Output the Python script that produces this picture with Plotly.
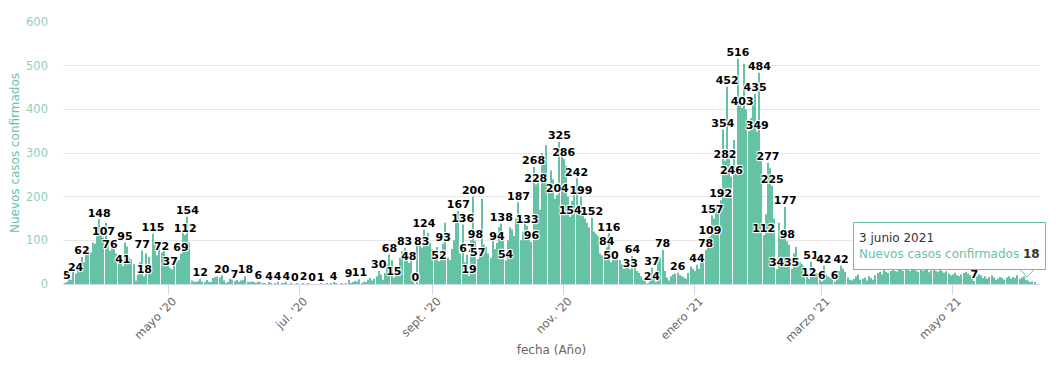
import pandas as pd
import plotly.graph_objects as go

# ---------------- data ----------------
start_date = "2020-03-14"
daily_cases = [
    2, 5, 16, 10, 28, 24, 33,
    40, 62, 50, 75, 80, 72, 95,
    92, 120, 148, 125, 107, 140, 100,
    76, 92, 86, 70, 63, 55, 41,
    95, 86, 60, 56, 45, 8, 22,
    50, 77, 18, 70, 62, 30, 115,
    90, 66, 96, 72, 84, 50, 45,
    37, 33, 45, 52, 55, 69, 120,
    112, 154, 95, 8, 5, 3, 7,
    12, 6, 4, 9, 5, 3, 14,
    16, 17, 15, 20, 8, 2, 3,
    12, 10, 7, 9, 5, 8, 10,
    18, 5, 3, 6, 4, 2, 6,
    3, 1, 2, 0, 4, 1, 0,
    2, 4, 0, 1, 2, 4, 0,
    1, 0, 0, 1, 0, 0, 2,
    0, 1, 0, 0, 0, 0, 0,
    1, 0, 0, 1, 0, 2, 4,
    1, 0, 0, 1, 0, 2, 9,
    1, 3, 7, 5, 11, 2, 6,
    4, 10, 14, 8, 12, 18, 30,
    22, 10, 25, 45, 68, 55, 15,
    20, 35, 60, 75, 83, 70, 48,
    65, 20, 0, 90, 100, 83, 124,
    110, 117, 95, 80, 60, 85, 52,
    75, 93, 140, 60, 55, 80, 100,
    145, 167, 70, 136, 50, 67, 19,
    100, 200, 98, 57, 75, 195, 90,
    85, 70, 60, 110, 80, 94, 130,
    138, 115, 54, 100, 130, 125, 110,
    150, 187, 100, 120, 140, 133, 110,
    96, 268, 228, 250, 170, 300, 290,
    318, 210, 260, 240, 195, 204, 325,
    300, 286, 270, 200, 154, 190, 220,
    242, 180, 199, 175, 150, 140, 130,
    152, 120, 115, 110, 70, 65, 60,
    84, 116, 50, 75, 70, 60, 55,
    45, 35, 40, 48, 33, 64, 45,
    30, 25, 18, 10, 12, 2, 15,
    37, 20, 4, 55, 60, 78, 30,
    15, 8, 18, 22, 24, 26, 20,
    18, 15, 12, 25, 40, 35, 30,
    44, 35, 60, 70, 78, 90, 109,
    157, 150, 175, 165, 192, 354, 282,
    452, 300, 246, 330, 270, 516, 420,
    403, 504, 400, 350, 380, 420, 435,
    349, 484, 300, 112, 160, 277, 265,
    225, 150, 34, 140, 110, 125, 177,
    98, 90, 35, 70, 85, 60, 50,
    45, 40, 30, 12, 51, 35, 28,
    25, 20, 6, 42, 22, 18, 15,
    20, 6, 25, 30, 42, 35, 28,
    15, 10, 8, 12, 18, 22, 10,
    12, 15, 8, 18, 14, 10, 20,
    25, 28, 22, 32, 28, 25, 30,
    33, 30, 28, 35, 32, 30, 34,
    36, 30, 33, 35, 31, 28, 33,
    30, 34, 32, 27, 31, 35, 30,
    28, 33, 30, 26, 29, 24, 20,
    22, 26, 20, 18, 22, 25, 28,
    24, 20, 15, 7, 18, 22, 20,
    14, 18, 12, 16, 20, 15, 10,
    12, 16, 14, 10, 15, 18, 12,
    16, 14, 20, 12, 15, 18, 10,
    8, 4, 6, 3,
]
# days (index into daily_cases) whose value label is visible in the chart
labeled_days = [
    1, 5, 8, 16, 18, 21, 27, 28, 36, 37, 41, 45, 49, 54, 56, 57, 63, 73, 79,
    84, 90, 95, 99, 103, 107, 111, 115, 119, 125, 132, 137, 146, 151, 153,
    158, 160, 163, 166, 167, 174, 176, 183, 185, 187, 188, 190, 191, 192,
    201, 203, 205, 211, 215, 217, 218, 219, 229, 230, 232, 235, 238, 240,
    245, 252, 253, 254, 263, 264, 271, 273, 275, 278, 285, 294, 298, 300,
    301, 305, 306, 307, 308, 310, 313, 315, 321, 322, 323, 325, 327, 329,
    331, 335, 336, 338, 346, 347, 352, 353, 358, 361, 423,
]
tick_dates = ["2020-05-01", "2020-07-01", "2020-09-01", "2020-11-01",
              "2021-01-01", "2021-03-01", "2021-05-01"]
tick_text = ["mayo '20", "jul. '20", "sept. '20", "nov. '20",
             "enero '21", "marzo '21", "mayo '21"]
tooltip_date = "3 junio 2021"
tooltip_value = 18
series_name = "Nuevos casos confirmados"

# ---------------- figure ----------------
dates = pd.date_range(start_date, periods=len(daily_cases), freq="D")
lab_x = [dates[i] for i in labeled_days]
lab_y = [daily_cases[i] for i in labeled_days]

TEAL = "#66c2a5"
FONT = "DejaVu Sans"

fig = go.Figure()
fig.add_trace(go.Bar(
    x=dates, y=daily_cases, name=series_name,
    marker=dict(color=TEAL, line=dict(width=0)),
    hoverinfo="skip",
))
fig.add_trace(go.Scatter(
    x=lab_x, y=lab_y, mode="text",
    text=[str(v) for v in lab_y], textposition="top center",
    cliponaxis=False,
    textfont=dict(family=FONT, size=11, color="#000000", weight="bold",
                  shadow="1px 1px 1px #fff, -1px -1px 1px #fff, 1px -1px 1px #fff, -1px 1px 1px #fff"),
    hoverinfo="skip",
))

# page body has an 8px margin, so the plot area is placed 8px up/left
fig.update_layout(
    width=1056, height=371,
    margin=dict(l=55, r=24, t=14, b=95, autoexpand=False),
    paper_bgcolor="white", plot_bgcolor="white",
    bargap=0.5,
    showlegend=False,
    font=dict(family=FONT, size=12, color="#666666"),
    xaxis=dict(
        type="date", automargin=False,
        range=[pd.Timestamp(start_date) - pd.Timedelta(hours=20),
               pd.Timestamp(start_date) + pd.Timedelta(days=len(daily_cases) + 1, hours=12)],
        tickmode="array", tickvals=tick_dates, ticktext=tick_text,
        tickangle=-45, ticks="outside", ticklen=10, tickcolor="#ccd6eb",
        tickfont=dict(family=FONT, size=11.5, color="#666666"),
        ticklabelstandoff=-5, ticklabelshift=5,
        showline=True, linecolor="#ccd6eb", linewidth=1,
        showgrid=False, zeroline=False,
        title=dict(text="fecha (Año)", font=dict(family=FONT, size=12, color="#666666"), standoff=1),
    ),
    yaxis=dict(
        range=[0, 600], dtick=100, automargin=False,
        gridcolor="#e6e6e6", gridwidth=1, zeroline=False,
        tickfont=dict(family=FONT, size=11.5, color="#8fcfbb"),
        ticklabelstandoff=14,
        title=dict(text=series_name, font=dict(family=FONT, size=12, color=TEAL), standoff=4),
    ),
)

# tooltip box (as in the reference screenshot)
def px(xp):
    return (xp - 63) / 977


def py(yp):
    return (284 - yp) / 262


fig.add_shape(
    type="path", xref="paper", yref="paper", layer="above",
    path=f"M {px(1020)} {py(269.5)} L {px(1027)} {py(277)} L {px(1034)} {py(269.5)}",
    fillcolor="white", line=dict(color=TEAL, width=1),
)
fig.add_annotation(
    xref="paper", yref="paper",
    x=px(853), y=py(222),
    xanchor="left", yanchor="top",
    text=(f"<span style='color:#333333'>{tooltip_date}</span><br>"
          f"<span style='color:{TEAL}'>{series_name}</span> "
          f"<b><span style='color:#333333'>{tooltip_value}</span></b>"),
    showarrow=False, align="left",
    font=dict(family=FONT, size=12, color="#333333"),
    bgcolor="white", bordercolor=TEAL, borderwidth=1, borderpad=5,
    width=181, height=36,
)

fig.write_html("out.html")
